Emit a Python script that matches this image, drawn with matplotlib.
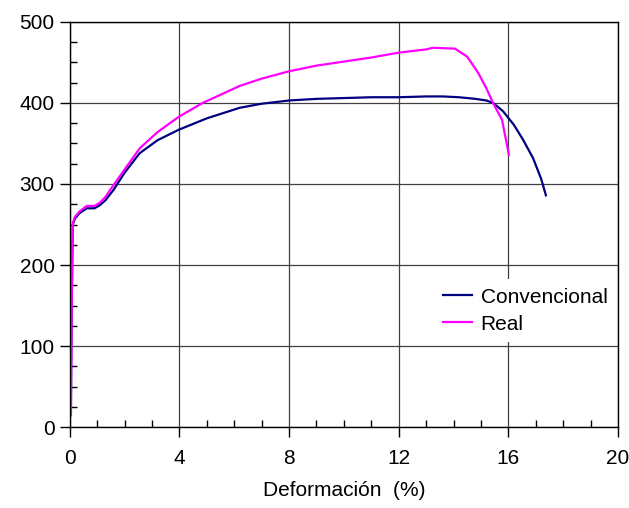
import matplotlib.pyplot as plt
from matplotlib.ticker import MultipleLocator

plt.rcParams['font.family'] = ['Liberation Sans', 'DejaVu Sans']

# Curva tensión-deformación (MPa vs %)
conv_x = [0.04, 0.05, 0.07, 0.09, 0.11, 0.18, 0.35, 0.62, 0.9, 1.1, 1.3, 1.6, 2.0, 2.55,
          3.2, 3.98, 5.0, 6.2, 7.0, 8.0, 9.0, 10.0, 11.0, 12.0, 13.0, 13.6, 14.2,
          14.8, 15.2, 15.44, 15.8, 16.2, 16.53, 16.9, 17.2, 17.37]
conv_y = [15, 70, 150, 210, 250, 257, 264, 270, 270, 274, 280, 293, 314, 338,
          354, 367, 381, 394, 399, 403, 405, 406, 407, 407, 408, 408, 407,
          405, 403, 400, 390, 373, 355, 332, 306, 286]

real_x = [0.04, 0.05, 0.07, 0.09, 0.11, 0.18, 0.35, 0.62, 0.9, 1.1, 1.3, 1.6, 2.0, 2.55,
          3.2, 3.98, 4.85, 6.2, 7.0, 8.0, 9.0, 10.0, 11.0, 12.0, 13.0, 13.25,
          14.05, 14.5, 14.9, 15.2, 15.44, 15.77, 16.02]
real_y = [15, 70, 150, 210, 252, 259, 266, 273, 273, 277, 284, 299, 318, 344,
          364, 383, 400, 421, 430, 439, 446, 451, 456, 462, 466, 468,
          467, 457, 437, 418, 400, 379, 336]

fs = 15

fig = plt.figure(figsize=(6.29, 5.08), dpi=100)
ax = fig.add_axes([0.111, 0.159, 0.8715, 0.798])

ax.plot(conv_x, conv_y, color='#000080', lw=1.6, label='Convencional')
ax.plot(real_x, real_y, color='#FF00FF', lw=1.6, label='Real')

ax.set_xlim(0, 20)
ax.set_ylim(0, 500)
ax.xaxis.set_major_locator(MultipleLocator(4))
ax.xaxis.set_minor_locator(MultipleLocator(1))
ax.yaxis.set_major_locator(MultipleLocator(100))
ax.yaxis.set_minor_locator(MultipleLocator(25))
ax.tick_params(which='major', direction='out', length=7, width=1, labelsize=fs, colors='black')
ax.tick_params(which='minor', direction='in', length=5, width=1)
ax.tick_params(axis='x', which='major', pad=9)
ax.tick_params(axis='y', which='major', pad=4)
ax.grid(True, which='major', color='#404040', lw=0.9)
ax.set_axisbelow(True)
for s in ax.spines.values():
    s.set_linewidth(1)
    s.set_color('black')

ax.set_xlabel('Deformación  (%)', fontsize=fs, labelpad=9)

leg = ax.legend(loc='lower right', bbox_to_anchor=(1.0, 0.205), fontsize=fs, frameon=True,
                fancybox=False, edgecolor='none', framealpha=1, handlelength=1.4,
                handletextpad=0.4, labelspacing=0.38, borderaxespad=0.1)

fig.savefig('out.png', dpi=100)
